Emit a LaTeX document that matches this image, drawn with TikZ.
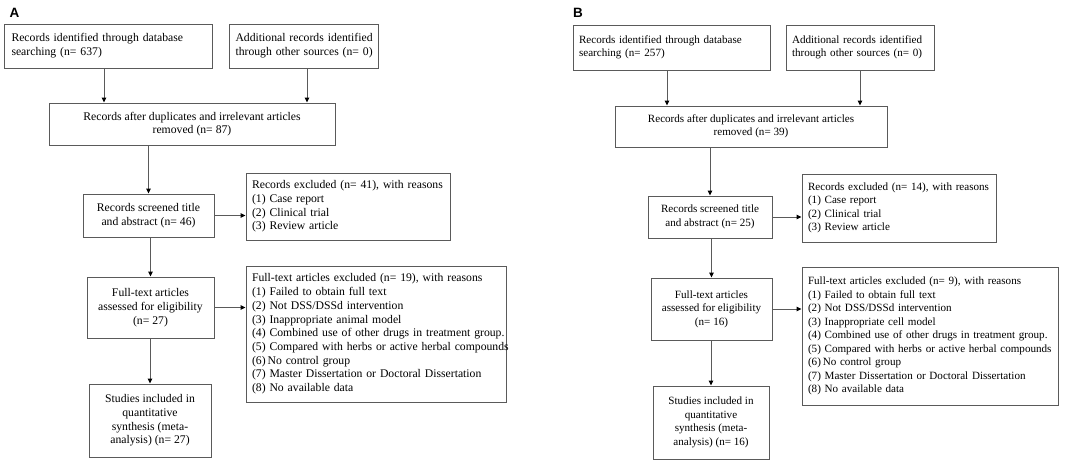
\documentclass[tikz,border=0pt]{standalone}
\usepackage{fontspec}
\setmainfont{Liberation Serif}
\newfontfamily\panelfont{Liberation Sans}
\usetikzlibrary{arrows.meta,calc}
\definecolor{lin}{HTML}{5A5A5A}
\newcommand{\leftlines}[1]{\begin{tabular}{@{}l@{}}#1\end{tabular}}
\begin{document}
\begin{tikzpicture}[x=1pt,y=-1pt,
  txt/.style={font=\fontsize{11.7pt}{13.7pt}\selectfont},
  txtb/.style={font=\fontsize{11.1pt}{13.5pt}\selectfont},
  cbox/.style={txt,draw=lin,line width=1pt,align=center,inner sep=2pt},
  lbox/.style 2 args={txt,draw=lin,line width=1pt,align=left,inner ysep=2pt,inner xsep=#2,text width=#1-2*#2},
  arr/.style={draw=lin,line width=1pt,-{Triangle[length=5pt,width=4.5pt,black]}},
  panel/.style={font=\panelfont\bfseries\fontsize{13.5pt}{15pt}\selectfont,inner sep=0pt,anchor=base west}]
\useasboundingbox (0,0) rectangle (1091,464);

% ---------------- Panel A ----------------
\node[panel] (la) at (9.5,17.5) {A};
\node[lbox={208pt}{7.5pt},minimum height=44pt] (a1) at (108,46)
  {\leftlines{Records identified through database\\searching (n= 637)}};
\node[lbox={149pt}{6.5pt},minimum height=44pt] (a2) at (303.5,46)
  {\leftlines{Additional records identified\\through other sources (n= 0)}};
\node[cbox,minimum width=286pt,minimum height=42pt] (a3) at (192,124)
  {Records after duplicates and irrelevant articles\\removed (n= 87)};
\node[cbox,minimum width=131pt,minimum height=43pt] (a4) at (148.5,215.5)
  {Records screened title\\and abstract (n= 46)};
\node[lbox={204pt}{6pt},minimum height=67pt] (a5) at (348,206.5)
  {\leftlines{Records excluded (n= 41), with reasons\\(1) Case report\\(2) Clinical trial\\(3) Review article}};
\node[cbox,minimum width=127pt,minimum height=61pt] (a6) at (150.5,307.5)
  {Full-text articles\\assessed for eligibility\\(n= 27)};
\node[lbox={260pt}{6pt},minimum height=136pt] (a7) at (376,334)
  {\leftlines{Full-text articles excluded (n= 19), with reasons\\(1) Failed to obtain full text\\(2) Not DSS/DSSd intervention\\(3) Inappropriate animal model\\(4) Combined use of other drugs in treatment group.\\(5) Compared with herbs or active herbal compounds\\(6)\,No control group\\(7) Master Dissertation or Doctoral Dissertation\\(8) No available data}};
\node[cbox,minimum width=122pt,minimum height=73pt] (a8) at (150,420.5)
  {Studies included in\\quantitative\\synthesis (meta-\\analysis) (n= 27)};

\draw[arr] ([xshift=-4pt]a1.south) -- ([xshift=-4pt]a1.south |- a3.north);
\draw[arr] ([xshift=3.5pt]a2.south) -- ([xshift=3.5pt]a2.south |- a3.north);
\draw[arr] (a3.south -| a4.north) -- (a4.north);
\draw[arr] (a4.east) -- (a4.east -| a5.west);
\draw[arr] (a4.south -| a6.north) -- (a6.north);
\draw[arr] (a6.east) -- (a6.east -| a7.west);
\draw[arr] (a6.south -| a8.north) -- (a8.north);

% ---------------- Panel B ----------------
\begin{scope}[txt/.style={txtb}]
\node[panel] (lb) at (573,17.5) {B};
\node[lbox={197pt}{6pt},minimum height=45pt] (b1) at (671.5,47.5)
  {\leftlines{Records identified through database\\searching (n= 257)}};
\node[lbox={148pt}{6pt},minimum height=45pt] (b2) at (860,47.5)
  {\leftlines{Additional records identified\\through other sources (n= 0)}};
\node[cbox,minimum width=272pt,minimum height=41pt] (b3) at (751,126.5)
  {Records after duplicates and irrelevant articles\\removed (n= 39)};
\node[cbox,minimum width=124pt,minimum height=42pt] (b4) at (710,217)
  {Records screened title\\and abstract (n= 25)};
\node[lbox={194pt}{6pt},minimum height=68pt] (b5) at (899,208)
  {\leftlines{Records excluded (n= 14), with reasons\\(1) Case report\\(2) Clinical trial\\(3) Review article}};
\node[cbox,minimum width=121pt,minimum height=62pt] (b6) at (711.5,309)
  {Full-text articles\\assessed for eligibility\\(n= 16)};
\node[lbox={256pt}{6pt},minimum height=138pt] (b7) at (930,336)
  {\leftlines{Full-text articles excluded (n= 9), with reasons\\(1) Failed to obtain full text\\(2) Not DSS/DSSd intervention\\(3) Inappropriate cell model\\(4) Combined use of other drugs in treatment group.\\(5) Compared with herbs or active herbal compounds\\(6)\,No control group\\(7) Master Dissertation or Doctoral Dissertation\\(8) No available data}};
\node[cbox,minimum width=116pt,minimum height=73pt] (b8) at (711,422.5)
  {Studies included in\\quantitative\\synthesis (meta-\\analysis) (n= 16)};

\draw[arr] ([xshift=-4.5pt]b1.south) -- ([xshift=-4.5pt]b1.south |- b3.north);
\draw[arr] (b2.south) -- (b2.south |- b3.north);
\draw[arr] (b3.south -| b4.north) -- (b4.north);
\draw[arr] (b4.east) -- (b4.east -| b5.west);
\draw[arr] (b4.south -| b6.north) -- (b6.north);
\draw[arr] (b6.east) -- (b6.east -| b7.west);
\draw[arr] (b6.south -| b8.north) -- (b8.north);
\end{scope}
\end{tikzpicture}
\end{document}
